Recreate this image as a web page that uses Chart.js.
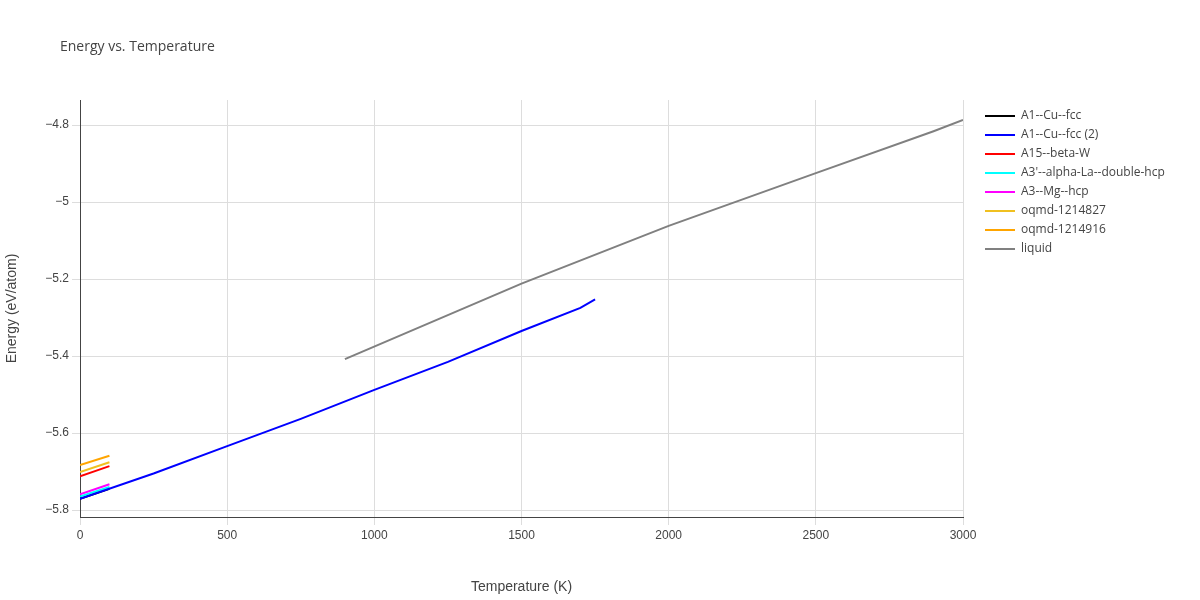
<!DOCTYPE html>
<html><head><meta charset="utf-8">
<script src="https://cdn.jsdelivr.net/npm/chart.js@4"></script>
<style>body{margin:0;background:#fff;font-family:"Open Sans",sans-serif}#w{width:1200px;height:600px;position:relative}
#t{position:absolute;left:60px;top:36px;font-size:14px;color:#444}
#lg{position:absolute;left:985px;top:105px;font-size:12px;color:#444}
#lg div{height:19px;line-height:19px;white-space:nowrap}
#lg span{display:inline-block;width:30px;height:2px;vertical-align:middle;margin-right:6px}</style></head>
<body><div id="w"><div id="t">Energy vs. Temperature</div><div id="lg"></div><canvas id="c" width="1200" height="600"></canvas></div>
<script>
const seriesNames = ["A1--Cu--fcc","A1--Cu--fcc (2)","A15--beta-W","A3'--alpha-La--double-hcp","A3--Mg--hcp","oqmd-1214827","oqmd-1214916","liquid"];
const colors = ["#000000","#0000ff","#ff0000","#00ffff","#ff00ff","#f0c020","#ffa500","#808080"];
const xs = [
  [0,100],
  [0,250,500,750,1000,1250,1500,1700,1750],
  [0,100],
  [0,100],
  [0,100],
  [0,100],
  [0,100],
  [900,1500,2000,2500,2900,3000]
];
const ys = [
  [-5.771,-5.745],
  [-5.771,-5.705,-5.634,-5.563,-5.488,-5.415,-5.335,-5.275,-5.253],
  [-5.712,-5.686],
  [-5.765,-5.740],
  [-5.759,-5.733],
  [-5.701,-5.676],
  [-5.683,-5.659],
  [-5.408,-5.212,-5.062,-4.925,-4.816,-4.787]
];
document.getElementById('lg').innerHTML=seriesNames.map((n,i)=>`<div><span style="background:${colors[i]}"></span>${n}</div>`).join('');
new Chart(document.getElementById('c'),{
  type:'line',
  data:{datasets:seriesNames.map((n,i)=>({label:n,data:xs[i].map((x,j)=>({x:x,y:ys[i][j]})),borderColor:colors[i],borderWidth:2,pointRadius:0,fill:false,order:i===0?9:0}))},
  options:{responsive:false,animation:false,
    layout:{padding:{top:100,left:0,right:237,bottom:0}},
    plugins:{legend:{display:false},tooltip:{enabled:false}},
    scales:{
      x:{type:'linear',min:0,max:3000,afterFit:a=>{a.height=83;},ticks:{stepSize:500,color:'#444',font:{size:12},callback:v=>String(v)},grid:{color:'#ddd'},border:{color:'#444'},
        title:{display:true,text:'Temperature (K)',color:'#444',font:{size:14},padding:{top:12}}},
      y:{min:-5.818,max:-4.735,afterFit:a=>{a.width=80;},afterBuildTicks:a=>{a.ticks=[-5.8,-5.6,-5.4,-5.2,-5,-4.8].map(v=>({value:v}));},
        ticks:{color:'#444',font:{size:12},callback:v=>String(Math.round(v*10)/10).replace('-','\u2212')},grid:{color:'#ddd'},border:{color:'#444'},
        title:{display:true,text:'Energy (eV/atom)',color:'#444',font:{size:14}}}
    }
  }
});
</script></body></html>
